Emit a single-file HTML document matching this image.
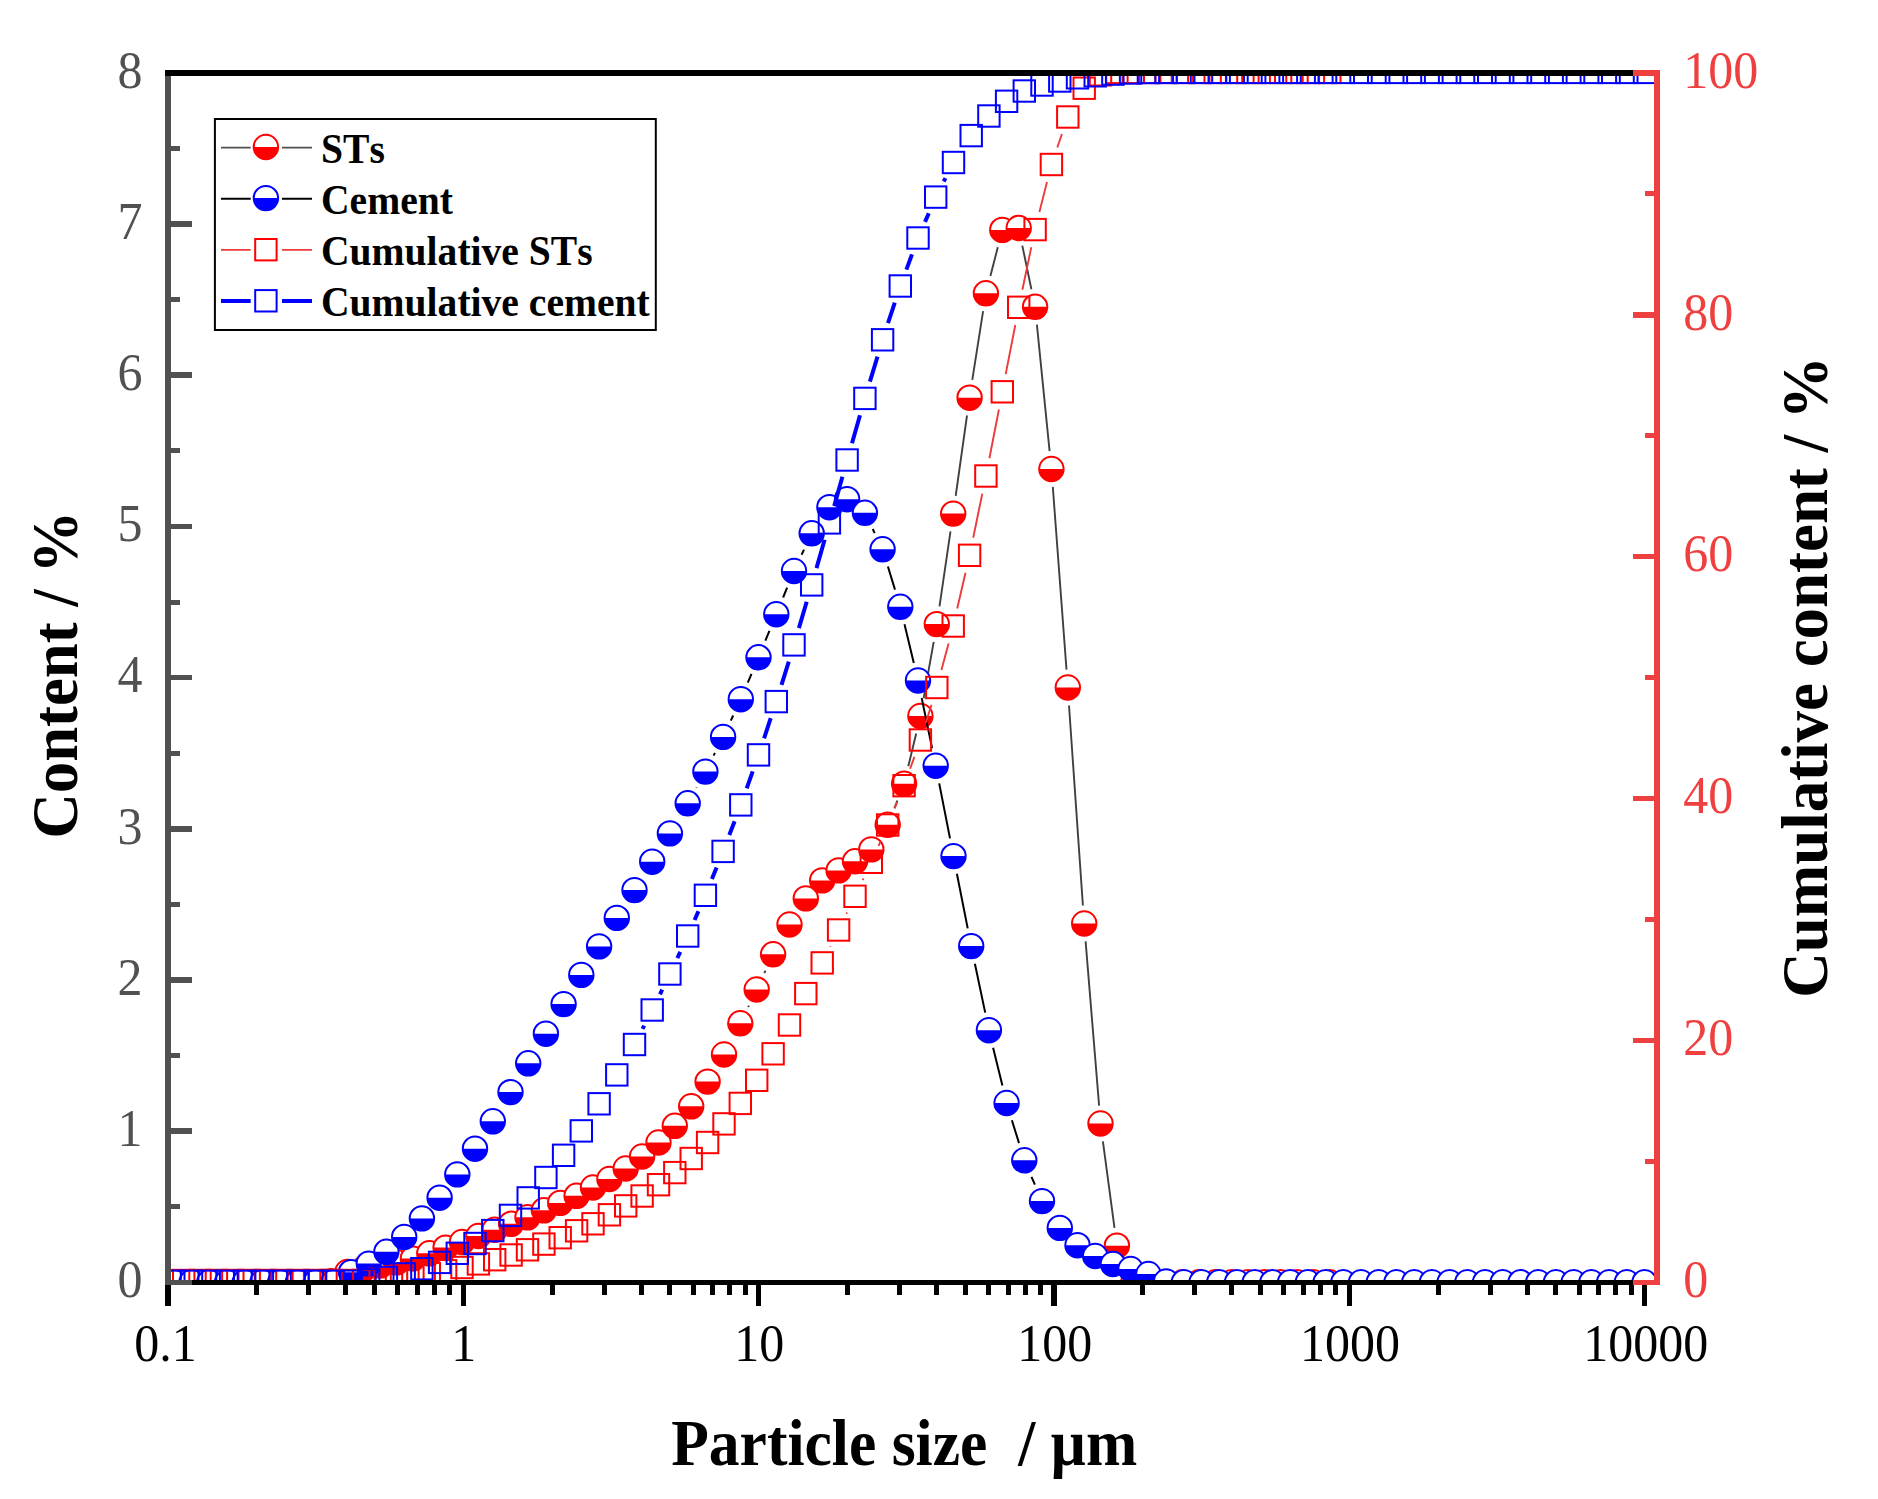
<!DOCTYPE html>
<html lang="en"><head><meta charset="utf-8"><title>Particle size distribution</title>
<style>html,body{margin:0;padding:0;background:#fff}body{width:1878px;height:1499px;overflow:hidden}svg{display:block}text{font-kerning:none}</style></head>
<body>
<svg width="1878" height="1499" viewBox="0 0 1878 1499">
<defs><g id="cr"><circle r="12.2" fill="#fff"/><path d="M-12.2 0A12.2 12.2 0 0 0 12.2 0Z" fill="#ff0000"/><circle r="12.2" fill="none" stroke="#ff0000" stroke-width="2"/></g><g id="cb"><circle r="12.2" fill="#fff"/><path d="M-12.2 0A12.2 12.2 0 0 0 12.2 0Z" fill="#0000ff"/><circle r="12.2" fill="none" stroke="#0000ff" stroke-width="2"/></g><rect id="sr" x="-10.7" y="-10.7" width="21.4" height="21.4" fill="none" stroke="#ff0000" stroke-width="2"/><rect id="sb" x="-10.7" y="-10.7" width="21.4" height="21.4" fill="none" stroke="#0000ff" stroke-width="2"/><clipPath id="cp"><rect x="168" y="72.8" width="1489" height="1209.5"/></clipPath></defs>
<rect width="1878" height="1499" fill="#fff"/>
<g clip-path="url(#cp)">
<path d="M748.2 1007.1L748.9 1005.7M764.3 973.2L765.5 970.6M894.4 808.1L897.4 800.5M908.3 766.3L916.2 733.5M923.6 698.3L933.7 641.8M939.5 606.3L950.5 531.4M955.7 495.8L967 415.5M972.3 379.9L983.1 311.1M990.4 275.9L997.8 247.3M1022.3 245.6L1031.4 289.2M1036.9 324.7L1049.6 451.1M1052.8 486.9L1066.5 669.6M1069 705.5L1082.9 905.5M1085.6 941.4L1099.1 1105.6M1102.9 1141.3L1114.5 1227.9M1124.3 1262.1L1125.9 1265.9" stroke="#404040" stroke-width="1.9" fill="none"/>
<use href="#cr" x="183.7" y="1282.3"/><use href="#cr" x="200" y="1282.3"/><use href="#cr" x="216.4" y="1282.3"/><use href="#cr" x="232.8" y="1282.3"/><use href="#cr" x="249.2" y="1282.3"/><use href="#cr" x="265.5" y="1282.3"/><use href="#cr" x="281.9" y="1282.3"/><use href="#cr" x="298.3" y="1282.3"/><use href="#cr" x="314.6" y="1282.3"/><use href="#cr" x="331" y="1281.2"/><use href="#cr" x="347.4" y="1272"/><use href="#cr" x="363.8" y="1268.8"/><use href="#cr" x="380.1" y="1265.6"/><use href="#cr" x="396.5" y="1262.3"/><use href="#cr" x="412.9" y="1258.6"/><use href="#cr" x="429.3" y="1253.3"/><use href="#cr" x="445.6" y="1247.6"/><use href="#cr" x="462" y="1242"/><use href="#cr" x="478.4" y="1236"/><use href="#cr" x="494.7" y="1229.7"/><use href="#cr" x="511.1" y="1223.8"/><use href="#cr" x="527.5" y="1217.3"/><use href="#cr" x="543.9" y="1210.3"/><use href="#cr" x="560.2" y="1202.9"/><use href="#cr" x="576.6" y="1195.8"/><use href="#cr" x="593" y="1187.5"/><use href="#cr" x="609.4" y="1179"/><use href="#cr" x="625.7" y="1168.5"/><use href="#cr" x="642.1" y="1156.5"/><use href="#cr" x="658.5" y="1142.5"/><use href="#cr" x="674.8" y="1125.8"/><use href="#cr" x="691.2" y="1106.3"/><use href="#cr" x="707.6" y="1081.6"/><use href="#cr" x="724" y="1054.5"/><use href="#cr" x="740.3" y="1023.3"/><use href="#cr" x="756.7" y="989.5"/><use href="#cr" x="773.1" y="954.3"/><use href="#cr" x="789.5" y="924.5"/><use href="#cr" x="805.8" y="898.4"/><use href="#cr" x="822.2" y="880.4"/><use href="#cr" x="838.6" y="870.4"/><use href="#cr" x="855" y="861.3"/><use href="#cr" x="871.3" y="849.4"/><use href="#cr" x="887.7" y="824.8"/><use href="#cr" x="904.1" y="783.8"/><use href="#cr" x="920.4" y="716"/><use href="#cr" x="936.8" y="624.1"/><use href="#cr" x="953.2" y="513.6"/><use href="#cr" x="969.6" y="397.7"/><use href="#cr" x="985.9" y="293.3"/><use href="#cr" x="1002.3" y="229.9"/><use href="#cr" x="1018.7" y="228"/><use href="#cr" x="1035.1" y="306.8"/><use href="#cr" x="1051.4" y="469"/><use href="#cr" x="1067.8" y="687.5"/><use href="#cr" x="1084.2" y="923.5"/><use href="#cr" x="1100.5" y="1123.5"/><use href="#cr" x="1116.9" y="1245.7"/><use href="#cr" x="1133.3" y="1282.3"/><use href="#cr" x="1149.7" y="1282.3"/><use href="#cr" x="1166" y="1282.3"/><use href="#cr" x="1182.4" y="1282.3"/><use href="#cr" x="1198.8" y="1282.3"/><use href="#cr" x="1215.2" y="1282.3"/><use href="#cr" x="1231.5" y="1282.3"/><use href="#cr" x="1247.9" y="1282.3"/><use href="#cr" x="1264.3" y="1282.3"/><use href="#cr" x="1280.6" y="1282.3"/><use href="#cr" x="1297" y="1282.3"/><use href="#cr" x="1313.4" y="1282.3"/><use href="#cr" x="1329.8" y="1282.3"/>
<path d="M696.4 787.6L696.6 787.3M713.6 755.6L714.9 752.9M730.8 720.6L733.2 715.5M747.8 682.6L751.5 673.9M765.4 640.7L769.4 630.8M783.1 597.5L787.1 587.7M801.6 554.7L804 549.6M872.7 529L874.7 533.1M887.9 566.5L895 589.6M904.5 624.3L913.8 663M921.7 698.1L932.1 748.1M939.2 783.4L950 838.4M956.9 873.8L967.7 928.4M974.9 963.7L985.2 1012.6M993.1 1047.7L1002.4 1085.5M1011.9 1120.2L1019 1143.1M1031.5 1176.8L1034.9 1184.6" stroke="#000" stroke-width="2.0" fill="none"/>
<use href="#cb" x="173.8" y="1282.3"/><use href="#cb" x="191.5" y="1282.3"/><use href="#cb" x="209.2" y="1282.3"/><use href="#cb" x="227" y="1282.3"/><use href="#cb" x="244.7" y="1282.3"/><use href="#cb" x="262.4" y="1282.3"/><use href="#cb" x="280.1" y="1282.3"/><use href="#cb" x="297.8" y="1282.3"/><use href="#cb" x="315.6" y="1282.3"/><use href="#cb" x="333.3" y="1282.3"/><use href="#cb" x="351" y="1272.2"/><use href="#cb" x="368.7" y="1263.6"/><use href="#cb" x="386.4" y="1251.8"/><use href="#cb" x="404.2" y="1236.9"/><use href="#cb" x="421.9" y="1218.4"/><use href="#cb" x="439.6" y="1197.7"/><use href="#cb" x="457.3" y="1174.4"/><use href="#cb" x="475" y="1148.7"/><use href="#cb" x="492.8" y="1121.3"/><use href="#cb" x="510.5" y="1092.1"/><use href="#cb" x="528.2" y="1063.3"/><use href="#cb" x="545.9" y="1033.7"/><use href="#cb" x="563.6" y="1004.1"/><use href="#cb" x="581.3" y="974.9"/><use href="#cb" x="599.1" y="946.4"/><use href="#cb" x="616.8" y="917.9"/><use href="#cb" x="634.5" y="890.1"/><use href="#cb" x="652.2" y="861.7"/><use href="#cb" x="669.9" y="833.4"/><use href="#cb" x="687.7" y="803.3"/><use href="#cb" x="705.4" y="771.6"/><use href="#cb" x="723.1" y="736.9"/><use href="#cb" x="740.8" y="699.2"/><use href="#cb" x="758.5" y="657.3"/><use href="#cb" x="776.3" y="614.2"/><use href="#cb" x="794" y="571"/><use href="#cb" x="811.7" y="533.3"/><use href="#cb" x="829.4" y="507.2"/><use href="#cb" x="847.1" y="499.2"/><use href="#cb" x="864.9" y="512.8"/><use href="#cb" x="882.6" y="549.3"/><use href="#cb" x="900.3" y="606.8"/><use href="#cb" x="918" y="680.5"/><use href="#cb" x="935.7" y="765.7"/><use href="#cb" x="953.5" y="856.1"/><use href="#cb" x="971.2" y="946.1"/><use href="#cb" x="988.9" y="1030.2"/><use href="#cb" x="1006.6" y="1103"/><use href="#cb" x="1024.3" y="1160.3"/><use href="#cb" x="1042" y="1201.1"/><use href="#cb" x="1059.8" y="1227.9"/><use href="#cb" x="1077.5" y="1245.2"/><use href="#cb" x="1095.2" y="1256"/><use href="#cb" x="1112.9" y="1264"/><use href="#cb" x="1130.6" y="1269"/><use href="#cb" x="1148.4" y="1274"/><use href="#cb" x="1166.1" y="1281.5"/><use href="#cb" x="1183.8" y="1282.3"/><use href="#cb" x="1201.5" y="1282.3"/><use href="#cb" x="1219.2" y="1282.3"/><use href="#cb" x="1237" y="1282.3"/><use href="#cb" x="1254.7" y="1282.3"/><use href="#cb" x="1272.4" y="1282.3"/><use href="#cb" x="1290.1" y="1282.3"/><use href="#cb" x="1307.8" y="1282.3"/><use href="#cb" x="1325.6" y="1282.3"/><use href="#cb" x="1343.3" y="1282.3"/><use href="#cb" x="1361" y="1282.3"/><use href="#cb" x="1378.7" y="1282.3"/><use href="#cb" x="1396.4" y="1282.3"/><use href="#cb" x="1414.2" y="1282.3"/><use href="#cb" x="1431.9" y="1282.3"/><use href="#cb" x="1449.6" y="1282.3"/><use href="#cb" x="1467.3" y="1282.3"/><use href="#cb" x="1485" y="1282.3"/><use href="#cb" x="1502.7" y="1282.3"/><use href="#cb" x="1520.5" y="1282.3"/><use href="#cb" x="1538.2" y="1282.3"/><use href="#cb" x="1555.9" y="1282.3"/><use href="#cb" x="1573.6" y="1282.3"/><use href="#cb" x="1591.3" y="1282.3"/><use href="#cb" x="1609.1" y="1282.3"/><use href="#cb" x="1626.8" y="1282.3"/><use href="#cb" x="1644.5" y="1282.3"/>
<path d="M830.2 946.8L830.6 946.1M846.4 913.8L847.1 912.5M862.8 880.1L863.5 878.5M878.6 845.8L880.5 841.5M894.6 808.4L897.1 802.3M910.1 768.8L914.4 756.9M925.8 722.8L931.5 704.7M941.4 670.1L948.6 643.4M957.2 608.5L965.5 572.8M973.2 537.7L982.3 493.6M989.4 458.3L998.9 409.5M1005.7 374.1L1015.3 325M1022.4 289.7L1031.3 247.2M1039.4 212.1L1047 182M1057.3 147.5L1061.9 134" stroke="#ee3a3a" stroke-width="1.9" fill="none"/>
<use href="#sr" x="183.7" y="1280.5"/><use href="#sr" x="200" y="1280.5"/><use href="#sr" x="216.4" y="1280.5"/><use href="#sr" x="232.8" y="1280.5"/><use href="#sr" x="249.2" y="1280.5"/><use href="#sr" x="265.5" y="1280.5"/><use href="#sr" x="281.9" y="1280.5"/><use href="#sr" x="298.3" y="1280.5"/><use href="#sr" x="314.6" y="1280.5"/><use href="#sr" x="331" y="1280.5"/><use href="#sr" x="347.4" y="1280.5"/><use href="#sr" x="363.8" y="1280.5"/><use href="#sr" x="380.1" y="1279.4"/><use href="#sr" x="396.5" y="1277.8"/><use href="#sr" x="412.9" y="1275.9"/><use href="#sr" x="429.3" y="1273.6"/><use href="#sr" x="445.6" y="1270.8"/><use href="#sr" x="462" y="1267.5"/><use href="#sr" x="478.4" y="1263.9"/><use href="#sr" x="494.7" y="1259.7"/><use href="#sr" x="511.1" y="1255"/><use href="#sr" x="527.5" y="1249.8"/><use href="#sr" x="543.9" y="1244.1"/><use href="#sr" x="560.2" y="1237.7"/><use href="#sr" x="576.6" y="1230.8"/><use href="#sr" x="593" y="1223.8"/><use href="#sr" x="609.4" y="1214.8"/><use href="#sr" x="625.7" y="1205.9"/><use href="#sr" x="642.1" y="1196"/><use href="#sr" x="658.5" y="1184.7"/><use href="#sr" x="674.8" y="1172.6"/><use href="#sr" x="691.2" y="1158.5"/><use href="#sr" x="707.6" y="1142.5"/><use href="#sr" x="724" y="1123.9"/><use href="#sr" x="740.3" y="1103.4"/><use href="#sr" x="756.7" y="1080.3"/><use href="#sr" x="773.1" y="1053.8"/><use href="#sr" x="789.5" y="1025"/><use href="#sr" x="805.8" y="993.6"/><use href="#sr" x="822.2" y="962.9"/><use href="#sr" x="838.6" y="930"/><use href="#sr" x="855" y="896.3"/><use href="#sr" x="871.3" y="862.3"/><use href="#sr" x="887.7" y="825"/><use href="#sr" x="904.1" y="785.7"/><use href="#sr" x="920.4" y="740"/><use href="#sr" x="936.8" y="687.5"/><use href="#sr" x="953.2" y="626"/><use href="#sr" x="969.6" y="555.3"/><use href="#sr" x="985.9" y="476"/><use href="#sr" x="1002.3" y="391.8"/><use href="#sr" x="1018.7" y="307.3"/><use href="#sr" x="1035.1" y="229.6"/><use href="#sr" x="1051.4" y="164.5"/><use href="#sr" x="1067.8" y="117"/><use href="#sr" x="1084.2" y="88.2"/><use href="#sr" x="1100.5" y="74.8"/><use href="#sr" x="1116.9" y="72.4"/><use href="#sr" x="1133.3" y="72.4"/><use href="#sr" x="1149.7" y="72.4"/><use href="#sr" x="1166" y="72.4"/><use href="#sr" x="1182.4" y="72.4"/><use href="#sr" x="1198.8" y="72.4"/><use href="#sr" x="1215.2" y="72.4"/><use href="#sr" x="1231.5" y="72.4"/><use href="#sr" x="1247.9" y="72.4"/><use href="#sr" x="1264.3" y="72.4"/><use href="#sr" x="1280.6" y="72.4"/><use href="#sr" x="1297" y="72.4"/><use href="#sr" x="1313.4" y="72.4"/><use href="#sr" x="1329.8" y="72.4"/>
<path d="M642.5 1028.9L644.2 1025.6M660 994.3L662.2 989.7M677.3 958.1L680.3 951.9M694.6 920L698.4 911.3M711.9 879.1L716.6 867.6M729.3 835L734.6 821.3M746.7 788.4L752.7 771.4M764.1 738.3L770.7 718.2M781.5 684.9L788.8 661.6M798.9 628.1L806.7 601.7M816.5 568.1L824.6 539.7M834.2 506.1L842.4 476.8M852 443.2L860 415.2M869.9 381.6L877.5 356.6M888 323.2L894.8 302.6M906.4 269.6L912 254.4M925 221.9L928.8 213.2M943.7 181.5L945.5 178.1" stroke="#0000ff" stroke-width="4" fill="none"/>
<use href="#sb" x="173.8" y="1281.3"/><use href="#sb" x="191.5" y="1281.3"/><use href="#sb" x="209.2" y="1281.3"/><use href="#sb" x="227" y="1281.3"/><use href="#sb" x="244.7" y="1281.3"/><use href="#sb" x="262.4" y="1281.3"/><use href="#sb" x="280.1" y="1281.3"/><use href="#sb" x="297.8" y="1281.3"/><use href="#sb" x="315.6" y="1281.3"/><use href="#sb" x="333.3" y="1281.3"/><use href="#sb" x="351" y="1281.3"/><use href="#sb" x="368.7" y="1279.9"/><use href="#sb" x="386.4" y="1277.5"/><use href="#sb" x="404.2" y="1273.9"/><use href="#sb" x="421.9" y="1268.7"/><use href="#sb" x="439.6" y="1262.4"/><use href="#sb" x="457.3" y="1253.3"/><use href="#sb" x="475" y="1243.5"/><use href="#sb" x="492.8" y="1230.6"/><use href="#sb" x="510.5" y="1215.4"/><use href="#sb" x="528.2" y="1197.9"/><use href="#sb" x="545.9" y="1177.5"/><use href="#sb" x="563.6" y="1155.3"/><use href="#sb" x="581.3" y="1130.9"/><use href="#sb" x="599.1" y="1103.8"/><use href="#sb" x="616.8" y="1074.9"/><use href="#sb" x="634.5" y="1044.5"/><use href="#sb" x="652.2" y="1010"/><use href="#sb" x="669.9" y="974"/><use href="#sb" x="687.7" y="936"/><use href="#sb" x="705.4" y="895.3"/><use href="#sb" x="723.1" y="851.4"/><use href="#sb" x="740.8" y="804.9"/><use href="#sb" x="758.5" y="754.9"/><use href="#sb" x="776.3" y="701.6"/><use href="#sb" x="794" y="644.9"/><use href="#sb" x="811.7" y="584.9"/><use href="#sb" x="829.4" y="522.9"/><use href="#sb" x="847.1" y="460"/><use href="#sb" x="864.9" y="398.4"/><use href="#sb" x="882.6" y="339.8"/><use href="#sb" x="900.3" y="286"/><use href="#sb" x="918" y="238"/><use href="#sb" x="935.7" y="197.1"/><use href="#sb" x="953.5" y="162.5"/><use href="#sb" x="971.2" y="135.6"/><use href="#sb" x="988.9" y="116"/><use href="#sb" x="1006.6" y="101.3"/><use href="#sb" x="1024.3" y="91"/><use href="#sb" x="1042" y="85"/><use href="#sb" x="1059.8" y="81"/><use href="#sb" x="1077.5" y="77.8"/><use href="#sb" x="1095.2" y="75.8"/><use href="#sb" x="1112.9" y="74.1"/><use href="#sb" x="1130.6" y="73"/><use href="#sb" x="1148.4" y="72.5"/><use href="#sb" x="1166.1" y="72.4"/><use href="#sb" x="1183.8" y="72.4"/><use href="#sb" x="1201.5" y="72.4"/><use href="#sb" x="1219.2" y="72.4"/><use href="#sb" x="1237" y="72.4"/><use href="#sb" x="1254.7" y="72.4"/><use href="#sb" x="1272.4" y="72.4"/><use href="#sb" x="1290.1" y="72.4"/><use href="#sb" x="1307.8" y="72.4"/><use href="#sb" x="1325.6" y="72.4"/><use href="#sb" x="1343.3" y="72.4"/><use href="#sb" x="1361" y="72.4"/><use href="#sb" x="1378.7" y="72.4"/><use href="#sb" x="1396.4" y="72.4"/><use href="#sb" x="1414.2" y="72.4"/><use href="#sb" x="1431.9" y="72.4"/><use href="#sb" x="1449.6" y="72.4"/><use href="#sb" x="1467.3" y="72.4"/><use href="#sb" x="1485" y="72.4"/><use href="#sb" x="1502.7" y="72.4"/><use href="#sb" x="1520.5" y="72.4"/><use href="#sb" x="1538.2" y="72.4"/><use href="#sb" x="1555.9" y="72.4"/><use href="#sb" x="1573.6" y="72.4"/><use href="#sb" x="1591.3" y="72.4"/><use href="#sb" x="1609.1" y="72.4"/><use href="#sb" x="1626.8" y="72.4"/><use href="#sb" x="1644.5" y="72.4"/>
</g>
<g shape-rendering="crispEdges"><g fill="#000"><rect x="164.8" y="1280" width="1495.3" height="4.8"/><rect x="164.8" y="1284" width="6.2" height="21.6"/><rect x="254.3" y="1284" width="5" height="10.5"/><rect x="306.3" y="1284" width="5" height="10.5"/><rect x="343.2" y="1284" width="5" height="10.5"/><rect x="371.8" y="1284" width="5" height="10.5"/><rect x="395.2" y="1284" width="5" height="10.5"/><rect x="415" y="1284" width="5" height="10.5"/><rect x="432.1" y="1284" width="5" height="10.5"/><rect x="447.2" y="1284" width="5" height="10.5"/><rect x="460.5" y="1284" width="5.4" height="21.6"/><rect x="549.6" y="1284" width="5" height="10.5"/><rect x="601.6" y="1284" width="5" height="10.5"/><rect x="638.5" y="1284" width="5" height="10.5"/><rect x="667.1" y="1284" width="5" height="10.5"/><rect x="690.5" y="1284" width="5" height="10.5"/><rect x="710.3" y="1284" width="5" height="10.5"/><rect x="727.4" y="1284" width="5" height="10.5"/><rect x="742.5" y="1284" width="5" height="10.5"/><rect x="755.8" y="1284" width="5.4" height="21.6"/><rect x="844.9" y="1284" width="5" height="10.5"/><rect x="896.9" y="1284" width="5" height="10.5"/><rect x="933.8" y="1284" width="5" height="10.5"/><rect x="962.5" y="1284" width="5" height="10.5"/><rect x="985.8" y="1284" width="5" height="10.5"/><rect x="1005.6" y="1284" width="5" height="10.5"/><rect x="1022.7" y="1284" width="5" height="10.5"/><rect x="1037.8" y="1284" width="5" height="10.5"/><rect x="1051.2" y="1284" width="5.4" height="21.6"/><rect x="1140.3" y="1284" width="5" height="10.5"/><rect x="1192.3" y="1284" width="5" height="10.5"/><rect x="1229.2" y="1284" width="5" height="10.5"/><rect x="1257.8" y="1284" width="5" height="10.5"/><rect x="1281.2" y="1284" width="5" height="10.5"/><rect x="1300.9" y="1284" width="5" height="10.5"/><rect x="1318.1" y="1284" width="5" height="10.5"/><rect x="1333.2" y="1284" width="5" height="10.5"/><rect x="1346.5" y="1284" width="5.4" height="21.6"/><rect x="1435.6" y="1284" width="5" height="10.5"/><rect x="1487.6" y="1284" width="5" height="10.5"/><rect x="1524.5" y="1284" width="5" height="10.5"/><rect x="1553.1" y="1284" width="5" height="10.5"/><rect x="1576.5" y="1284" width="5" height="10.5"/><rect x="1596.3" y="1284" width="5" height="10.5"/><rect x="1613.4" y="1284" width="5" height="10.5"/><rect x="1628.5" y="1284" width="5" height="10.5"/><rect x="1641.8" y="1284" width="5.4" height="21.6"/></g><g fill="#515151"><rect x="164.8" y="70" width="6.2" height="1214.8"/><rect x="170" y="1279.5" width="22" height="5.6"/><rect x="170" y="1204.2" width="10" height="5"/><rect x="170" y="1128.3" width="22" height="5.6"/><rect x="170" y="1053" width="10" height="5"/><rect x="170" y="977.1" width="22" height="5.6"/><rect x="170" y="901.8" width="10" height="5"/><rect x="170" y="826" width="22" height="5.6"/><rect x="170" y="750.7" width="10" height="5"/><rect x="170" y="674.8" width="22" height="5.6"/><rect x="170" y="599.5" width="10" height="5"/><rect x="170" y="523.6" width="22" height="5.6"/><rect x="170" y="448.3" width="10" height="5"/><rect x="170" y="372.4" width="22" height="5.6"/><rect x="170" y="297.1" width="10" height="5"/><rect x="170" y="221.2" width="22" height="5.6"/><rect x="170" y="145.9" width="10" height="5"/><rect x="170" y="70.1" width="22" height="5.6"/></g><rect x="164.8" y="70" width="1495.3" height="5.7" fill="#000"/><g fill="#ef4040"><rect x="1653.9" y="70" width="6.2" height="1214.6"/><rect x="1632.8" y="1279.5" width="22" height="5.6"/><rect x="1645" y="1158.9" width="10" height="5"/><rect x="1632.8" y="1037.6" width="22" height="5.6"/><rect x="1645" y="917" width="10" height="5"/><rect x="1632.8" y="795.7" width="22" height="5.6"/><rect x="1645" y="675.1" width="10" height="5"/><rect x="1632.8" y="553.8" width="22" height="5.6"/><rect x="1645" y="433.2" width="10" height="5"/><rect x="1632.8" y="311.9" width="22" height="5.6"/><rect x="1645" y="191.3" width="10" height="5"/><rect x="1632.8" y="70.1" width="22" height="5.6"/></g></g>
<g font-family="'Liberation Serif','Times New Roman',serif" font-size="50">
<g fill="#515151" text-anchor="end">
<text transform="translate(142.5,1297.1) scale(1,1.04)">0</text>
<text transform="translate(142.5,1145.9) scale(1,1.04)">1</text>
<text transform="translate(142.5,994.7) scale(1,1.04)">2</text>
<text transform="translate(142.5,843.6) scale(1,1.04)">3</text>
<text transform="translate(142.5,692.4) scale(1,1.04)">4</text>
<text transform="translate(142.5,541.2) scale(1,1.04)">5</text>
<text transform="translate(142.5,390) scale(1,1.04)">6</text>
<text transform="translate(142.5,238.8) scale(1,1.04)">7</text>
<text transform="translate(142.5,87.7) scale(1,1.04)">8</text>
</g>
<g fill="#ef4040" text-anchor="start">
<text transform="translate(1683.3,1297.1) scale(1,1.04)">0</text>
<text transform="translate(1683.3,1055.2) scale(1,1.04)">20</text>
<text transform="translate(1683.3,813.3) scale(1,1.04)">40</text>
<text transform="translate(1683.3,571.4) scale(1,1.04)">60</text>
<text transform="translate(1683.3,329.5) scale(1,1.04)">80</text>
<text transform="translate(1683.3,87.7) scale(1,1.04)">100</text>
</g>
<g fill="#000" text-anchor="middle">
<text transform="translate(165.4,1361) scale(1,1.04)">0.1</text>
<text transform="translate(463.7,1361) scale(1,1.04)">1</text>
<text transform="translate(759.3,1361) scale(1,1.04)">10</text>
<text transform="translate(1054.7,1361) scale(1,1.04)">100</text>
<text transform="translate(1350,1361) scale(1,1.04)">1000</text>
<text transform="translate(1645.7,1361) scale(1,1.04)">10000</text>
</g></g>
<g font-family="'Liberation Serif','Times New Roman',serif" font-weight="bold" fill="#000">
<text transform="translate(904.3,1464.8) scale(0.993,1.05)" font-size="62" text-anchor="middle" xml:space="preserve" style="white-space:pre">Particle size  / µm</text>
<text transform="translate(77.1,674.7) rotate(-90) scale(1.0125,1.06)" font-size="62" text-anchor="middle">Content / %</text>
<text transform="translate(1827.2,677) rotate(-90) scale(1.015,1.07)" font-size="62" text-anchor="middle">Cumulative content / %</text>
<rect x="214.9" y="119" width="440.9" height="211" fill="#fff" stroke="#000" stroke-width="2"/>
<path d="M221 147.6 H250.7 M282 147.6 H312" stroke="#505050" stroke-width="1.9"/>
<path d="M221 198.7 H250.7 M282 198.7 H312" stroke="#000" stroke-width="2.0"/>
<path d="M221 249.9 H250.7 M282 249.9 H312" stroke="#ee3a3a" stroke-width="1.9"/>
<path d="M221 301 H250.7 M282 301 H312" stroke="#0000ff" stroke-width="4"/>
<use href="#cr" x="265.9" y="147"/><use href="#cb" x="265.9" y="198.1"/><use href="#sr" x="265.9" y="249.7"/><use href="#sb" x="265.9" y="300.8"/>
<text transform="translate(321,162.8) scale(1,1.065)" font-size="39.6">STs</text>
<text transform="translate(321,213.9) scale(1,1.065)" font-size="39.6">Cement</text>
<text transform="translate(321,265.1) scale(1,1.065)" font-size="39.6">Cumulative STs</text>
<text transform="translate(321,316.2) scale(1,1.065)" font-size="39.6">Cumulative cement</text>
</g>
</svg>
</body></html>
